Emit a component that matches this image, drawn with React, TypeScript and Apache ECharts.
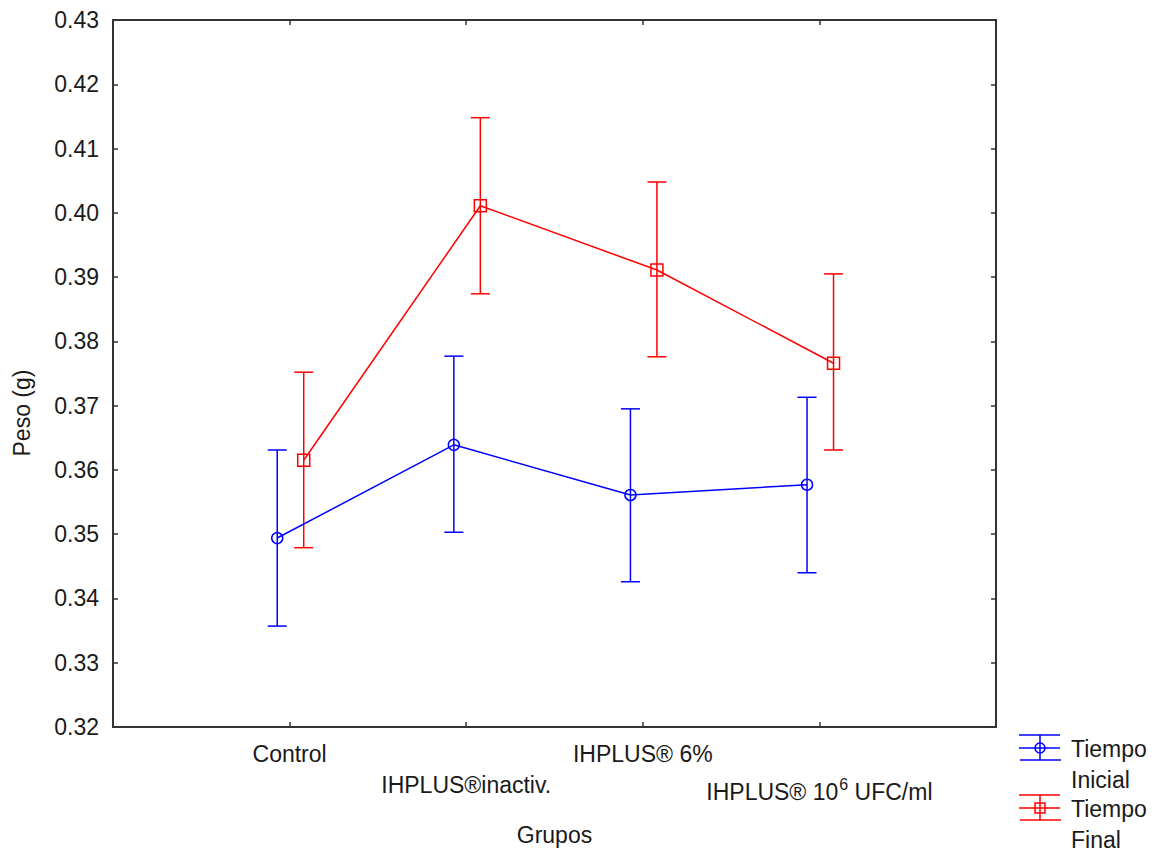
import React, { useEffect, useRef } from "react";
import * as echarts from "echarts";

const categories = ["Control", "IHPLUS®inactiv.", "IHPLUS® 6%", "IHPLUS® 10^6 UFC/ml"];
const yTicks = [0.32, 0.43, 0.01];

const inicialMean = [0.3494, 0.3639, 0.3561, 0.3577];
const inicialLow = [0.3357, 0.3503, 0.3426, 0.344];
const inicialHigh = [0.3631, 0.3777, 0.3695, 0.3713];

const finalMean = [0.3615, 0.4011, 0.3911, 0.3766];
const finalLow = [0.3479, 0.3874, 0.3776, 0.3631];
const finalHigh = [0.3752, 0.4148, 0.4048, 0.3905];

const seriesNames = ["Tiempo\nInicial", "Tiempo\nFinal"];

const BLUE = "#0000ff";
const RED = "#ff0000";
const FONT = "'Liberation Sans', Arial, sans-serif";
const FS = 23;
const TXT = "#1a1a1a";
const AX = "#333333";

const OFF_I = -0.07;
const OFF_F = 0.08;

function errorSeries(low: number[], high: number[], off: number, color: string) {
  return {
    type: "custom",
    silent: true,
    z: 2,
    data: low.map((l, i) => [i + 1 + off, l, high[i]]),
    encode: { x: 0, y: [1, 2] },
    renderItem: (params: any, api: any) => {
      const x = api.value(0);
      const top = api.coord([x, api.value(2)]);
      const bot = api.coord([x, api.value(1)]);
      const w = 9.5;
      const st = { stroke: color, lineWidth: 1.5, fill: "none" };
      return {
        type: "group",
        children: [
          { type: "line", shape: { x1: top[0], y1: top[1], x2: bot[0], y2: bot[1] }, style: st },
          { type: "line", shape: { x1: top[0] - w, y1: top[1], x2: top[0] + w, y2: top[1] }, style: st },
          { type: "line", shape: { x1: bot[0] - w, y1: bot[1], x2: bot[0] + w, y2: bot[1] }, style: st },
        ],
      };
    },
  };
}

function labelFor(v: number) {
  const i = Math.round(v) - 1;
  if (i < 0 || i >= categories.length) return "";
  const txt = categories[i].replace(/\^(\d+)/, "}{sup|$1}{r|");
  if (i === 0 || i === 2) return "{r|" + txt + "}";
  if (i === 1) return "{sp1|\u00a0}\n{r|" + txt + "}";
  return "{sp2|\u00a0}\n{r|" + txt + "}";
}

function legendItem(y: number, color: string, isCircle: boolean, name: string) {
  const st = { stroke: color, lineWidth: 1.5, fill: "none" };
  const cx = 1040;
  const marker = isCircle
    ? { type: "circle", shape: { cx, cy: y, r: 5 }, style: st }
    : { type: "rect", shape: { x: cx - 5, y: y - 5, width: 10, height: 10 }, style: st };
  return [
    { type: "line", shape: { x1: 1019, y1: y - 13, x2: 1060, y2: y - 13 }, style: st },
    { type: "line", shape: { x1: 1019, y1: y, x2: 1060, y2: y }, style: st },
    { type: "line", shape: { x1: 1020, y1: y + 12, x2: 1061, y2: y + 12 }, style: st },
    { type: "line", shape: { x1: cx, y1: y - 13, x2: cx, y2: y + 12 }, style: st },
    marker,
    {
      type: "text",
      x: 1071,
      y: y - 15,
      style: {
        text: name,
        font: `${FS}px ${FONT}`,
        fill: TXT,
        lineHeight: 31,
        align: "left",
        verticalAlign: "top",
      },
    },
  ];
}

export default function App() {
  const ref = useRef<HTMLDivElement>(null);
  useEffect(() => {
    if (!ref.current) return;
    const chart = echarts.init(ref.current, null, { renderer: "svg" });
    const axisCommon = {
      type: "value",
      axisLine: { show: true, onZero: false, lineStyle: { color: AX, width: 2 } },
      axisTick: { show: true, inside: true, length: 5, lineStyle: { color: AX, width: 1.5 } },
      splitLine: { show: false },
    };
    chart.setOption({
      animation: false,
      backgroundColor: "#ffffff",
      textStyle: { fontFamily: FONT },
      grid: { left: 113, top: 20, right: 164, bottom: 125, containLabel: false },
      xAxis: [
        {
          ...axisCommon,
          position: "bottom",
          min: 0,
          max: 5,
          interval: 1,
          name: "Grupos",
          nameLocation: "middle",
          nameGap: 96,
          nameTextStyle: { fontSize: FS, color: TXT, fontFamily: FONT },
          axisLabel: {
            margin: 11,
            color: TXT,
            fontSize: FS,
            fontFamily: FONT,
            showMinLabel: false,
            showMaxLabel: false,
            formatter: (v: number) => labelFor(v),
            rich: {
              r: { fontSize: FS, fontFamily: FONT, color: TXT, lineHeight: 31 },
              sup: { fontSize: 16, fontFamily: FONT, color: TXT, lineHeight: 31, verticalAlign: "top", padding: [0, 0, 0, 1] },
              sp1: { fontSize: FS, lineHeight: 31 },
              sp2: { fontSize: FS, lineHeight: 38 },
            },
          },
        },
        {
          ...axisCommon,
          position: "top",
          min: 0,
          max: 5,
          interval: 1,
          axisLabel: { show: false },
        },
      ],
      yAxis: [
        {
          ...axisCommon,
          position: "left",
          min: yTicks[0],
          max: yTicks[1],
          interval: yTicks[2],
          axisLabel: {
            margin: 14,
            color: TXT,
            fontSize: FS,
            fontFamily: FONT,
            formatter: (v: number) => v.toFixed(2),
          },
        },
        {
          ...axisCommon,
          position: "right",
          min: yTicks[0],
          max: yTicks[1],
          interval: yTicks[2],
          axisLabel: { show: false },
        },
      ],
      graphic: [
        {
          type: "text",
          x: 22,
          y: 413,
          rotation: Math.PI / 2,
          style: {
            text: "Peso (g)",
            font: `${FS}px ${FONT}`,
            fill: TXT,
            align: "center",
            verticalAlign: "middle",
          },
        },
        ...legendItem(748, BLUE, true, seriesNames[0]),
        ...legendItem(808, RED, false, seriesNames[1]),
      ],
      series: [
        errorSeries(inicialLow, inicialHigh, OFF_I, BLUE),
        errorSeries(finalLow, finalHigh, OFF_F, RED),
        {
          name: seriesNames[0],
          type: "line",
          z: 3,
          data: inicialMean.map((v, i) => [i + 1 + OFF_I, v]),
          symbol: "circle",
          symbolSize: 11,
          itemStyle: { color: "rgba(0,0,0,0)", borderColor: BLUE, borderWidth: 1.5 },
          lineStyle: { color: BLUE, width: 1.5 },
        },
        {
          name: seriesNames[1],
          type: "line",
          z: 3,
          data: finalMean.map((v, i) => [i + 1 + OFF_F, v]),
          symbol: "rect",
          symbolSize: 12,
          itemStyle: { color: "rgba(0,0,0,0)", borderColor: RED, borderWidth: 1.5 },
          lineStyle: { color: RED, width: 1.5 },
        },
      ],
    });
    return () => chart.dispose();
  }, []);
  return (
    <div
      ref={ref}
      style={{ position: "fixed", left: 0, top: 0, width: 1160, height: 852, background: "#fff" }}
    />
  );
}
